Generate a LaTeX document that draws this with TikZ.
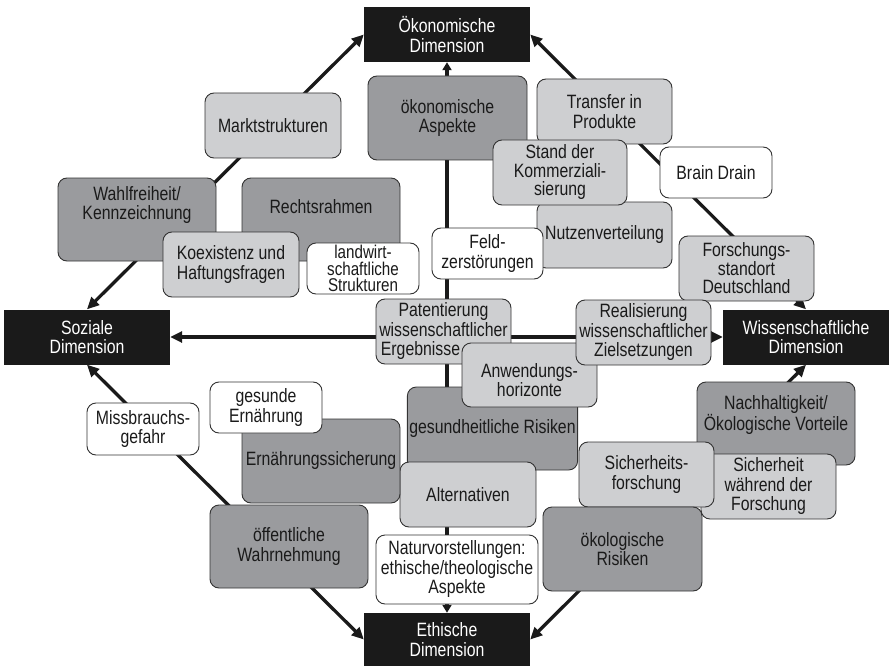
\documentclass[tikz,border=0pt]{standalone}
\usepackage{fontspec}
\setmainfont{Liberation Sans}[FakeStretch=0.82]
\usetikzlibrary{arrows.meta}
\pgfdeclarelayer{background}
\pgfsetlayers{background,main}
\definecolor{dg}{HTML}{9A9B9E}
\definecolor{lg}{HTML}{CECFD1}
\definecolor{bk}{HTML}{1A1A1A}
\definecolor{bd}{HTML}{333333}
\begin{document}
\begin{tikzpicture}[x=1pt,y=-1pt,
 base/.style={draw=bd, line width=0.9pt, rounded corners=9pt, align=center, inner sep=2pt, font=\fontsize{19.3}{19.5}\selectfont, text=bk},
 dark/.style={base, fill=dg},
 light/.style={base, fill=lg},
 white/.style={base, fill=white},
 dim/.style={fill=bk, text=white, align=center, font=\fontsize{19.3}{19.5}\selectfont, inner sep=0pt, minimum width=166pt},
 txt/.style={align=center, inner sep=0pt, font=\fontsize{19.3}{19.5}\selectfont, text=bk},
 conn/.style={line width=3.3pt, draw=bk, {Triangle[length=12pt,width=11pt]}-{Triangle[length=12pt,width=11pt]}},
 vconn/.style={line width=3.3pt, draw=bk, {Triangle[length=8pt,width=9pt]}-{Triangle[length=8pt,width=9pt]}}
]
\useasboundingbox (0,0) rectangle (889,666);

% dimension boxes
\node[dim, minimum height=55pt] (oek) at (447,34.5) {Ökonomische\\Dimension};
\node[dim, minimum height=55pt] (soz) at (87,337) {Soziale\\Dimension};
\node[dim, minimum height=55pt] (wiss) at (806,337) {Wissenschaftliche\\Dimension};
\node[dim, minimum height=53pt] (eth) at (447,639.5) {Ethische\\Dimension};

% connectors
\begin{pgfonlayer}{background}
\draw[conn] (soz.north) -- (oek.west);
\draw[conn] (oek.east) -- (wiss.north);
\draw[conn] (soz.south) -- (eth.west);
\draw[conn] (eth.east) -- (wiss.south);
\draw[conn] (soz) -- (wiss);
\draw[vconn] (oek) -- (eth);
\end{pgfonlayer}

% upper left
\node[light, minimum width=136pt, minimum height=65pt] (mark) at (273,125.5) {Marktstrukturen};
\node[dark, minimum width=158pt, minimum height=83pt] (wahl) at (137,219.5) {};
\node[txt] (wahlT) at (137,205) {Wahlfreiheit/\\Kennzeichnung};
\node[dark, minimum width=158pt, minimum height=83pt] (recht) at (321,219.5) {};
\node[txt] (rechtT) at (321,207) {Rechtsrahmen};
\node[light, minimum width=136pt, minimum height=65pt] (koex) at (231,264.5) {Koexistenz und\\Haftungsfragen};
\node[white, minimum width=112pt, minimum height=51pt, inner sep=0pt, font=\fontsize{18.5}{16.8}\selectfont] (landw) at (363,268.5) {landwirt-\\schaftliche\\Strukturen};

% upper right
\node[dark, minimum width=159pt, minimum height=84pt] (oekasp) at (447.5,118) {ökonomische\\Aspekte};
\node[light, minimum width=135pt, minimum height=65pt] (transfer) at (604.5,111.5) {Transfer in\\Produkte};
\node[light, minimum width=135pt, minimum height=66pt] (nutzen) at (604.5,235) {Nutzenverteilung};
\node[light, minimum width=134pt, minimum height=65pt, font=\fontsize{19.3}{18.5}\selectfont] (stand) at (560,172.5) {Stand der\\Kommerziali-\\sierung};
\node[white, minimum width=111pt, minimum height=51pt] (feld) at (487.5,253.5) {Feld-\\zerstörungen};
\node[white, minimum width=112pt, minimum height=51pt] (brain) at (716,172.5) {Brain Drain};
\node[light, minimum width=135pt, minimum height=65pt, font=\fontsize{19.3}{18.5}\selectfont] (forsch) at (746.5,268.5) {Forschungs-\\standort\\Deutschland};

% centre
\node[light, minimum width=135pt, minimum height=65pt] (patent) at (443.5,331.5) {Patentierung\\wissenschaftlicher\\Ergebnisse\hspace*{46pt}};
\node[dark, minimum width=167pt, minimum height=83pt] (gesrisk) at (492.5,428.5) {gesundheitliche Risiken};
\node[light, minimum width=135pt, minimum height=64pt] (anw) at (529.5,375) {};
\node[txt] (anwT) at (529.5,380) {Anwendungs-\\horizonte};
\node[light, minimum width=135pt, minimum height=65pt] (real) at (643.5,332.5) {Realisierung\\wissenschaftlicher\\Zielsetzungen};
\node[light, minimum width=136pt, minimum height=65pt] (altern) at (468,494.5) {Alternativen};
\node[white, minimum width=162pt, minimum height=69pt] (natur) at (457,569.5) {Naturvorstellungen:\\ethische/theologische\\Aspekte};

% lower left
\node[white, minimum width=112pt, minimum height=52pt] (miss) at (143,429) {Missbrauchs-\\gefahr};
\node[dark, minimum width=158pt, minimum height=84pt] (ernsich) at (321,461) {Ernährungssicherung};
\node[white, minimum width=112pt, minimum height=51pt] (gesund) at (266,407.5) {gesunde\\Ernährung};
\node[dark, minimum width=158pt, minimum height=83pt] (oeff) at (289,546.5) {öffentliche\\Wahrnehmung};

% lower right
\node[dark, minimum width=158pt, minimum height=83pt] (nachh) at (776,423.5) {};
\node[txt] (nachhT) at (776,415) {Nachhaltigkeit/\\Ökologische Vorteile};
\node[light, minimum width=135pt, minimum height=65pt] (sichw) at (768.5,486.5) {Sicherheit\\während der\\Forschung};
\node[light, minimum width=135pt, minimum height=65pt] (sichf) at (646.5,474.5) {Sicherheits-\\forschung};
\node[dark, minimum width=159pt, minimum height=84pt] (oekrisk) at (622.5,549) {ökologische\\Risiken};
\end{tikzpicture}
\end{document}
